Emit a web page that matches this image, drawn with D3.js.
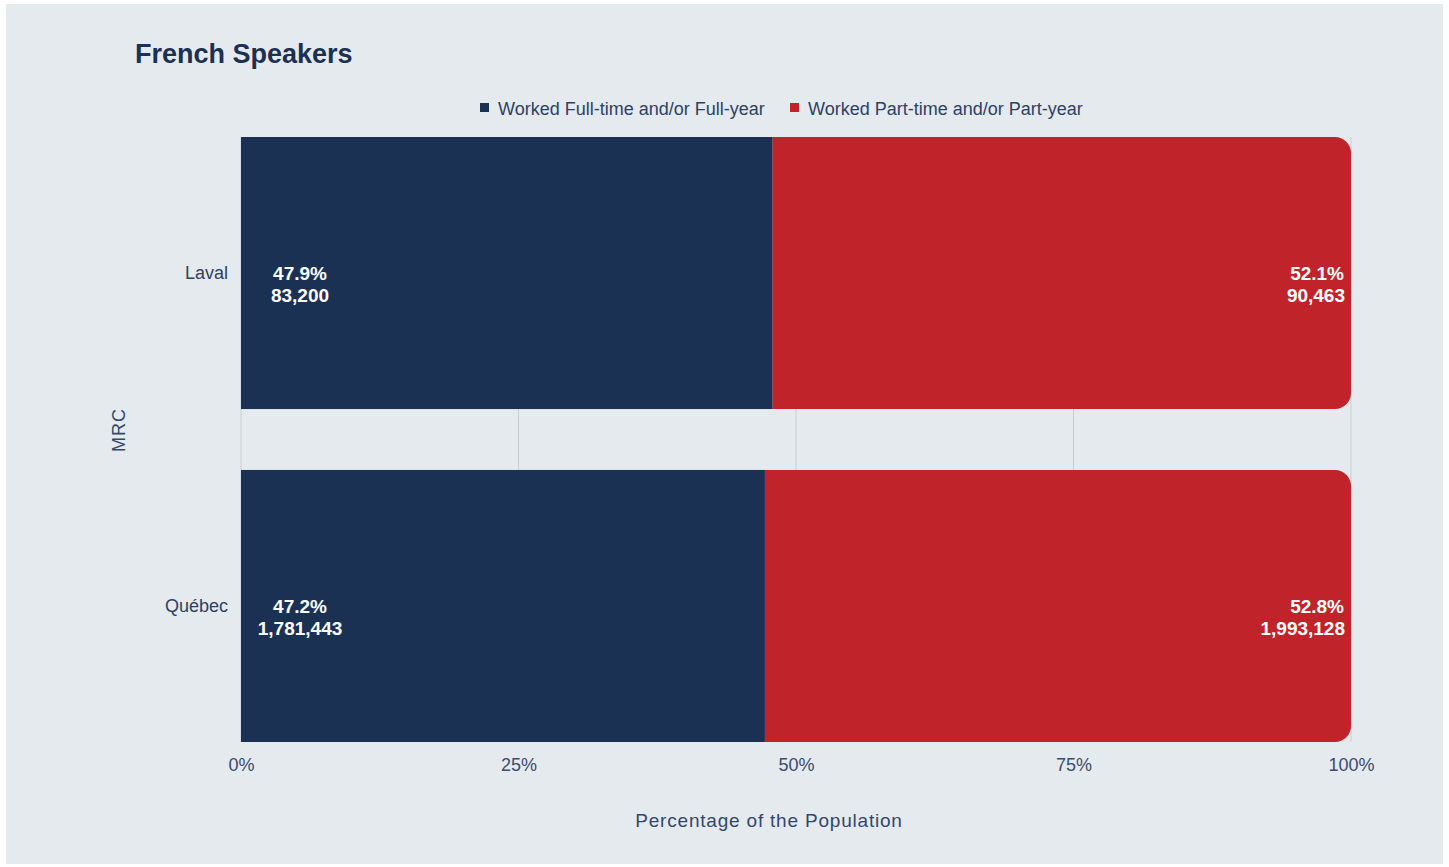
<!DOCTYPE html>
<html>
<head>
<meta charset="utf-8">
<script src="https://cdn.jsdelivr.net/npm/d3@7"></script>
<style>
  html, body { margin: 0; padding: 0; background: #ffffff; }
  svg { display: block; font-family: "Liberation Sans", Arial, Helvetica, sans-serif; }
</style>
</head>
<body>
<svg id="chart" width="1449" height="867"></svg>
<script>
// Employment status of French speakers, by MRC
const categories = ["Laval", "Québec"];
const seriesNames = ["Worked Full-time and/or Full-year", "Worked Part-time and/or Part-year"];
const fullTimePct = [47.9, 47.2];
const partTimePct = [52.1, 52.8];
const fullTimeCount = [83200, 1781443];
const partTimeCount = [90463, 1993128];
const tickValues = [0, 25, 50, 75, 100];
const colors = ["#1b3153", "#c1232a"];

const svg = d3.select("#chart");
const W = 1449, H = 867;
const margin = { left: 241, right: 98, top: 137, bottom: 125 };

svg.append("rect")
  .attr("x", 6).attr("y", 4).attr("width", W - 12).attr("height", H - 7)
  .attr("fill", "#e5eaef");

const x = d3.scaleLinear().domain([0, 100]).range([margin.left, W - margin.right]);
const y = d3.scaleBand().domain(categories)
  .range([margin.top, H - margin.bottom])
  .paddingInner(0.183).paddingOuter(0);

// grid lines
svg.append("g").selectAll("line").data(tickValues).join("line")
  .attr("x1", d => x(d)).attr("x2", d => x(d))
  .attr("y1", margin.top).attr("y2", H - margin.bottom)
  .attr("stroke", "#c9cfd6").attr("stroke-width", 1);

// stacked bars
const rows = categories.map((c, i) => ({
  cat: c,
  parts: [
    { key: 0, x0: 0, x1: fullTimePct[i], pct: fullTimePct[i], count: fullTimeCount[i] },
    { key: 1, x0: fullTimePct[i], x1: fullTimePct[i] + partTimePct[i], pct: partTimePct[i], count: partTimeCount[i] }
  ]
}));

const r = 16;
function rightRounded(x0, y0, w, h, rad) {
  return `M${x0},${y0}H${x0 + w - rad}A${rad},${rad} 0 0 1 ${x0 + w},${y0 + rad}` +
         `V${y0 + h - rad}A${rad},${rad} 0 0 1 ${x0 + w - rad},${y0 + h}H${x0}Z`;
}

const fmt = d3.format(",");
rows.forEach(row => {
  const y0 = y(row.cat), h = y.bandwidth();
  row.parts.forEach(p => {
    const xa = x(p.x0), xb = x(p.x1);
    if (p.key === 1) {
      svg.append("path").attr("d", rightRounded(xa, y0, xb - xa, h, r)).attr("fill", colors[1]);
    } else {
      svg.append("rect").attr("x", xa).attr("y", y0).attr("width", xb - xa).attr("height", h).attr("fill", colors[0]);
    }
  });
  // value labels
  const cy = y0 + h / 2;
  const left = row.parts[0], right = row.parts[1];
  const lt = svg.append("text").attr("fill", "#ffffff").attr("font-weight", "bold")
    .attr("font-size", 19).attr("text-anchor", "middle");
  lt.append("tspan").attr("x", x(left.x0) + 59).attr("y", cy + 7).text(left.pct.toFixed(1) + "%");
  lt.append("tspan").attr("x", x(left.x0) + 59).attr("y", cy + 29).text(fmt(left.count));
  const rt = svg.append("text").attr("fill", "#ffffff").attr("font-weight", "bold")
    .attr("font-size", 19).attr("text-anchor", "end");
  rt.append("tspan").attr("x", x(right.x1) - 7).attr("y", cy + 7).text(right.pct.toFixed(1) + "%");
  rt.append("tspan").attr("x", x(right.x1) - 6).attr("y", cy + 29).text(fmt(right.count));
});

// x axis
const xAxis = svg.append("g").attr("transform", `translate(0,${H - margin.bottom})`)
  .call(d3.axisBottom(x).tickValues(tickValues).tickFormat(d => d + "%").tickSize(0).tickPadding(16));
xAxis.select(".domain").remove();
xAxis.selectAll("text").attr("font-size", 18).attr("fill", "#3a4d6c")
  .attr("font-family", "Liberation Sans, Arial, sans-serif");

// y axis
const yAxis = svg.append("g").attr("transform", `translate(${margin.left},0)`)
  .call(d3.axisLeft(y).tickSize(0).tickPadding(13));
yAxis.select(".domain").remove();
yAxis.selectAll("text").attr("font-size", 18).attr("fill", "#2e4163")
  .attr("font-family", "Liberation Sans, Arial, sans-serif");

// axis titles
svg.append("text").attr("x", 769).attr("y", 827)
  .attr("text-anchor", "middle").attr("font-size", 19).attr("letter-spacing", 0.8)
  .attr("fill", "#33476a").text("Percentage of the Population");
svg.append("text").attr("transform", "translate(125,430) rotate(-90)")
  .attr("text-anchor", "middle").attr("font-size", 18).attr("letter-spacing", 1)
  .attr("fill", "#33476a").text("MRC");

// title
svg.append("text").attr("x", 135).attr("y", 63).attr("font-size", 27).attr("font-weight", "bold")
  .attr("fill", "#1b3153").text("French Speakers");

// legend
const legend = svg.append("g");
const legendX = [480, 790];
seriesNames.forEach((s, i) => {
  legend.append("rect").attr("x", legendX[i]).attr("y", 103).attr("width", 9).attr("height", 9).attr("fill", colors[i]);
  legend.append("text").attr("x", legendX[i] + 18).attr("y", 115).attr("font-size", 18)
    .attr("fill", "#2e4163").text(s);
});
</script>
</body>
</html>
